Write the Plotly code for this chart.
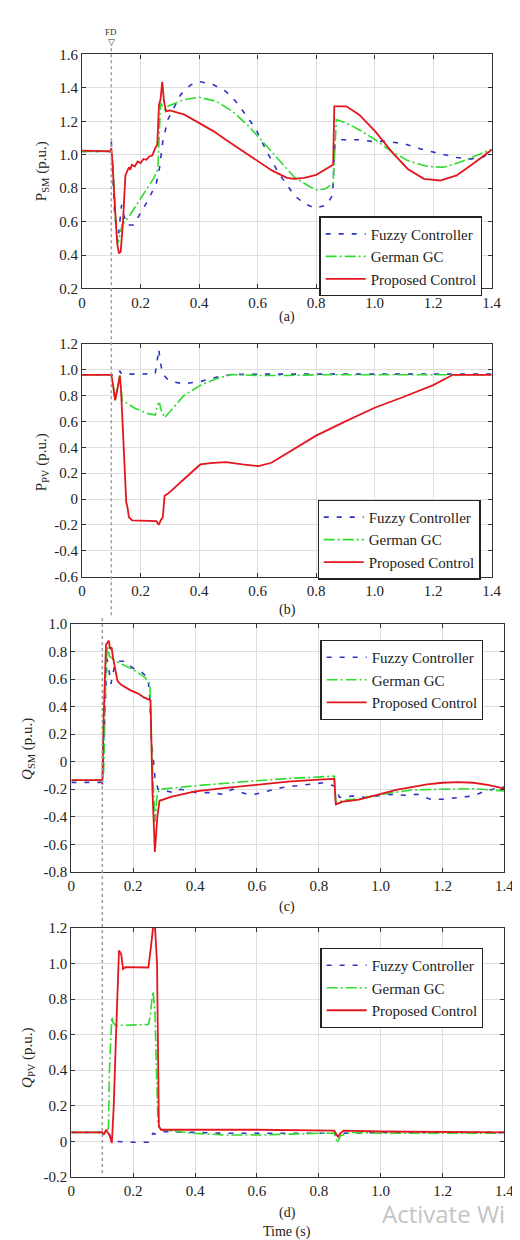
import plotly.graph_objects as go

# ---------------- data ----------------
FD_TIME = 0.1
X_TICKS = [0, 0.2, 0.4, 0.6, 0.8, 1.0, 1.2, 1.4]
X_TICK_TEXT = ["0", "0.2", "0.4", "0.6", "0.8", "1.0", "1.2", "1.4"]

# (a) P_SM
t_a_fuzzy = [0, 0.098, 0.1, 0.103, 0.112, 0.125, 0.13, 0.135, 0.142, 0.155, 0.176, 0.198, 0.226, 0.254, 0.265,
             0.276, 0.293, 0.337, 0.37, 0.404, 0.448, 0.492, 0.525, 0.559, 0.592, 0.631, 0.67, 0.697, 0.725,
             0.758, 0.797, 0.836, 0.856, 0.864, 0.88, 0.908, 0.947, 0.99, 1.035, 1.1, 1.146, 1.19, 1.235, 1.28,
             1.324, 1.368, 1.4]
v_a_fuzzy = [1.02, 1.02, 1.08, 0.95, 0.62, 0.53, 0.62, 0.7, 0.64, 0.58, 0.58, 0.65, 0.73, 0.83, 0.925,
             1.08, 1.21, 1.36, 1.417, 1.437, 1.42, 1.378, 1.32, 1.24, 1.16, 1.02, 0.896, 0.827, 0.758,
             0.709, 0.68, 0.70, 0.758, 1.06, 1.09, 1.09, 1.09, 1.08, 1.08, 1.067, 1.04, 1.02, 1.0, 0.984,
             0.974, 0.984, 1.02]
t_a_german = [0, 0.1, 0.105, 0.115, 0.123, 0.137, 0.16, 0.182, 0.204, 0.226, 0.245, 0.259, 0.264, 0.268,
              0.275, 0.282, 0.293, 0.32, 0.348, 0.4, 0.459, 0.514, 0.57, 0.625, 0.67, 0.725, 0.78, 0.8, 0.83,
              0.858, 0.869, 0.903, 0.947, 1.002, 1.057, 1.113, 1.18, 1.235, 1.291, 1.346, 1.4]
v_a_german = [1.02, 1.02, 0.95, 0.6, 0.47, 0.58, 0.63, 0.69, 0.75, 0.807, 0.86, 0.915, 1.1, 1.31,
              1.29, 1.27, 1.29, 1.31, 1.33, 1.344, 1.32, 1.26, 1.17, 1.063, 0.975, 0.866, 0.807, 0.79, 0.795,
              0.827, 1.21, 1.19, 1.15, 1.09, 1.02, 0.965, 0.93, 0.925, 0.955, 0.994, 1.033]
t_a_prop = [0, 0.098, 0.1, 0.102, 0.104, 0.112, 0.12, 0.126, 0.132, 0.14, 0.148, 0.16, 0.165, 0.17, 0.18,
            0.19, 0.2, 0.21, 0.22, 0.23, 0.24, 0.25, 0.257, 0.263, 0.268, 0.274, 0.28, 0.287, 0.3, 0.35, 0.4,
            0.45, 0.5, 0.55, 0.6, 0.65, 0.7, 0.725, 0.76, 0.8, 0.858, 0.862, 0.903, 0.947, 1.002, 1.057,
            1.113, 1.168, 1.224, 1.28, 1.335, 1.4]
v_a_prop = [1.025, 1.02, 1.04, 1.0, 0.95, 0.7, 0.47, 0.41, 0.42, 0.6, 0.876, 0.925, 0.91, 0.94, 0.93,
            0.96, 0.95, 0.975, 0.97, 0.99, 0.995, 1.04, 1.06, 1.3, 1.33, 1.437, 1.32, 1.26, 1.265, 1.24, 1.19,
            1.14, 1.08, 1.02, 0.96, 0.905, 0.862, 0.856, 0.862, 0.88, 0.94, 1.29, 1.29, 1.24, 1.14, 1.02,
            0.915, 0.856, 0.846, 0.876, 0.945, 1.03]

# (b) P_PV
t_b_fuzzy = [0, 0.1, 0.113, 0.125, 0.129, 0.135, 0.2, 0.25, 0.255, 0.262, 0.268, 0.276, 0.29, 0.304, 0.348,
             0.404, 0.459, 0.514, 0.6, 0.8, 1.0, 1.2, 1.4]
v_b_fuzzy = [0.96, 0.96, 0.95, 0.97, 0.99, 0.965, 0.965, 0.97, 1.04, 1.158, 1.05, 0.967, 0.93, 0.908, 0.89,
             0.908, 0.941, 0.962, 0.965, 0.965, 0.965, 0.965, 0.965]
t_b_german = [0, 0.1, 0.106, 0.113, 0.12, 0.129, 0.137, 0.16, 0.182, 0.226, 0.25, 0.255, 0.259, 0.265, 0.27,
              0.282, 0.304, 0.348, 0.404, 0.459, 0.509, 0.6, 0.7, 0.8, 1.0, 1.4]
v_b_german = [0.96, 0.96, 0.88, 0.763, 0.85, 0.954, 0.763, 0.73, 0.70, 0.66, 0.649, 0.70, 0.735, 0.738, 0.687,
              0.628, 0.687, 0.80, 0.878, 0.929, 0.962, 0.955, 0.955, 0.96, 0.96, 0.96]
t_b_prop = [0, 0.1, 0.106, 0.113, 0.121, 0.129, 0.133, 0.137, 0.146, 0.151, 0.155, 0.16, 0.171, 0.204, 0.254,
            0.258, 0.262, 0.27, 0.276, 0.282, 0.293, 0.348, 0.404, 0.448, 0.492, 0.548, 0.603, 0.647, 0.714,
            0.8, 0.9, 1.0, 1.1, 1.2, 1.267, 1.4]
v_b_prop = [0.96, 0.96, 0.88, 0.763, 0.85, 0.954, 0.85, 0.65, 0.267, -0.025, -0.06, -0.14, -0.165, -0.165, -0.17,
            -0.185, -0.2, -0.16, -0.14, 0.025, 0.04, 0.153, 0.267, 0.28, 0.285, 0.267, 0.254, 0.28, 0.37,
            0.49, 0.6, 0.705, 0.79, 0.88, 0.96, 0.96]

# (c) Q_SM
t_c_fuzzy = [0, 0.098, 0.1, 0.105, 0.115, 0.122, 0.128, 0.14, 0.154, 0.175, 0.196, 0.227, 0.248, 0.254, 0.259,
             0.264, 0.27, 0.28, 0.311, 0.332, 0.353, 0.406, 0.448, 0.49, 0.52, 0.568, 0.594, 0.636, 0.678,
             0.72, 0.768, 0.815, 0.851, 0.856, 0.867, 0.909, 0.951, 1.024, 1.077, 1.119, 1.161, 1.203, 1.245,
             1.297, 1.339, 1.381, 1.4]
v_c_fuzzy = [-0.15, -0.15, -0.16, 0.2, 0.75, 0.66, 0.565, 0.70, 0.73, 0.73, 0.684, 0.65, 0.61, 0.45, 0.134,
             0.04, -0.105, -0.2, -0.213, -0.225, -0.2, -0.225, -0.225, -0.237, -0.2, -0.237, -0.237, -0.213,
             -0.189, -0.177, -0.165, -0.153, -0.177, -0.2, -0.26, -0.249, -0.26, -0.237, -0.244, -0.237,
             -0.273, -0.273, -0.26, -0.249, -0.213, -0.189, -0.185]
t_c_german = [0, 0.1, 0.104, 0.112, 0.117, 0.123, 0.144, 0.175, 0.207, 0.238, 0.254, 0.258, 0.264, 0.27,
              0.278, 0.29, 0.4, 0.5, 0.6, 0.7, 0.8, 0.85, 0.855, 0.862, 0.88, 0.93, 1.0, 1.1, 1.2, 1.3, 1.382,
              1.4]
v_c_german = [-0.134, -0.134, -0.1, 0.7, 0.84, 0.767, 0.73, 0.696, 0.66, 0.612, 0.564, 0.2, -0.2, -0.44,
              -0.225, -0.2, -0.175, -0.155, -0.138, -0.122, -0.11, -0.105, -0.296, -0.296, -0.28, -0.27,
              -0.237, -0.206, -0.2, -0.196, -0.21, -0.213]
t_c_prop = [0, 0.098, 0.1, 0.104, 0.112, 0.121, 0.125, 0.13, 0.135, 0.149, 0.16, 0.175, 0.19, 0.207, 0.22,
            0.233, 0.249, 0.256, 0.262, 0.27, 0.278, 0.285, 0.322, 0.4, 0.5, 0.6, 0.7, 0.8, 0.85, 0.855,
            0.878, 0.93, 1.0, 1.05, 1.1, 1.15, 1.2, 1.25, 1.3, 1.35, 1.4]
v_c_prop = [-0.134, -0.134, -0.165, 0.3, 0.85, 0.88, 0.82, 0.83, 0.75, 0.588, 0.56, 0.54, 0.52, 0.504, 0.49,
            0.469, 0.455, 0.445, -0.2, -0.655, -0.4, -0.284, -0.255, -0.215, -0.19, -0.165, -0.145, -0.13,
            -0.125, -0.31, -0.29, -0.275, -0.235, -0.205, -0.185, -0.165, -0.153, -0.148, -0.153, -0.17,
            -0.196]

# (d) Q_PV
t_d_fuzzy = [0, 0.1, 0.12, 0.128, 0.133, 0.2, 0.249, 0.258, 0.264, 0.27, 0.28, 0.3, 0.5, 0.85, 0.86, 0.87,
             1.0, 1.4]
v_d_fuzzy = [0.05, 0.05, 0.05, 0.02, 0.0, -0.005, -0.005, 0.03, 0.045, 0.04, 0.05, 0.055, 0.045, 0.045, 0.03,
             0.045, 0.05, 0.05]
t_d_german = [0, 0.1, 0.115, 0.12, 0.123, 0.128, 0.131, 0.135, 0.144, 0.249, 0.255, 0.259, 0.264, 0.27, 0.275,
              0.28, 0.29, 0.385, 0.5, 0.6, 0.8, 0.85, 0.86, 0.87, 0.9, 1.0, 1.4]
v_d_german = [0.05, 0.05, 0.05, 0.08, 0.39, 0.6, 0.7, 0.667, 0.652, 0.657, 0.7, 0.777, 0.843, 0.74, 0.4,
              0.093, 0.065, 0.046, 0.035, 0.035, 0.045, 0.045, -0.01, 0.03, 0.05, 0.045, 0.045]
t_d_prop = [0, 0.1, 0.105, 0.112, 0.118, 0.123, 0.131, 0.137, 0.144, 0.154, 0.161, 0.167, 0.175, 0.249, 0.257,
            0.264, 0.27, 0.277, 0.283, 0.29, 0.385, 0.6, 0.85, 0.857, 0.862, 0.87, 0.88, 1.0, 1.4]
v_d_prop = [0.05, 0.05, 0.037, 0.065, 0.05, 0.037, -0.01, 0.2, 0.574, 1.074, 1.055, 0.97, 0.98, 0.978, 1.09,
            1.2, 1.22, 1.0, 0.083, 0.065, 0.065, 0.065, 0.06, 0.04, 0.025, 0.045, 0.06, 0.055, 0.05]

SERIES_NAMES = ["Fuzzy Controller", "German GC", "Proposed Control"]

# ---------------- styling ----------------
W, H = 520, 1240
FONT = "Liberation Serif"
BLUE, GREEN, RED = "#2b35c4", "#2edc2e", "#e3161e"
STYLES = [dict(color=BLUE, width=1.6, dash="5px,8px"),
          dict(color=GREEN, width=1.6, dash="11px,3px,2px,3px"),
          dict(color=RED, width=1.8)]


def px_x(p):
    return p / W


def px_y(p):
    return 1 - p / H


panels = [
    dict(t=[t_a_fuzzy, t_a_german, t_a_prop], v=[v_a_fuzzy, v_a_german, v_a_prop],
         xd=[px_x(72), px_x(493)], yd=[px_y(276), px_y(39)], yr=[0.2, 1.6],
         yt=[0.2, 0.4, 0.6, 0.8, 1.0, 1.2, 1.4, 1.6],
         ytt=["0.2", "0.4", "0.6", "0.8", "1.0", "1.2", "1.4", "1.6"],
         leg=(316, 203), lab="P<sub>SM</sub> (p.u.)", labpos=(31, 157), sub="(a)", subpos=305),
    dict(t=[t_b_fuzzy, t_b_german, t_b_prop], v=[v_b_fuzzy, v_b_german, v_b_prop],
         xd=[px_x(72), px_x(493)], yd=[px_y(568), px_y(332)], yr=[-0.6, 1.2],
         yt=[-0.6, -0.4, -0.2, 0, 0.2, 0.4, 0.6, 0.8, 1.0, 1.2],
         ytt=["-0.6", "-0.4", "-0.2", "0", "0.2", "0.4", "0.6", "0.8", "1.0", "1.2"],
         leg=(314, 490), lab="P<sub>PV</sub> (p.u.)", labpos=(31, 452), sub="(b)", subpos=602),
    dict(t=[t_c_fuzzy, t_c_german, t_c_prop], v=[v_c_fuzzy, v_c_german, v_c_prop],
         xd=[px_x(61), px_x(506)], yd=[px_y(867), px_y(616)], yr=[-0.8, 1.0],
         yt=[-0.8, -0.6, -0.4, -0.2, 0, 0.2, 0.4, 0.6, 0.8, 1.0],
         ytt=["-0.8", "-0.6", "-0.4", "-0.2", "0", "0.2", "0.4", "0.6", "0.8", "1.0"],
         leg=(317, 632), lab="<i>Q</i><sub>SM</sub> (p.u.)", labpos=(17, 743), sub="(c)", subpos=903),
    dict(t=[t_d_fuzzy, t_d_german, t_d_prop], v=[v_d_fuzzy, v_d_german, v_d_prop],
         xd=[px_x(61), px_x(506)], yd=[px_y(1176), px_y(924)], yr=[-0.2, 1.2],
         yt=[-0.2, 0, 0.2, 0.4, 0.6, 0.8, 1.0, 1.2],
         ytt=["-0.2", "0", "0.2", "0.4", "0.6", "0.8", "1.0", "1.2"],
         leg=(317, 944), lab="<i>Q</i><sub>PV</sub> (p.u.)", labpos=(17, 1055), sub="(d)", subpos=1213),
]

fig = go.Figure()
annotations = []
layout = dict(width=W, height=H, margin=dict(l=0, r=0, t=0, b=0), paper_bgcolor="white",
              plot_bgcolor="white", font=dict(family=FONT, size=15, color="#222"), showlegend=True)

for i, p in enumerate(panels, start=1):
    sfx = "" if i == 1 else str(i)
    legname = "legend" + sfx
    for k in range(3):
        fig.add_trace(go.Scatter(x=p["t"][k], y=p["v"][k], mode="lines", name=SERIES_NAMES[k],
                                 line=STYLES[k], xaxis="x" + sfx, yaxis="y" + sfx, legend=legname))
    axcommon = dict(showline=True, linecolor="#333", linewidth=1.2, mirror="ticks", ticks="inside",
                    ticklen=4, tickcolor="#333", showgrid=True, gridcolor="#dedede", gridwidth=1,
                    zeroline=False, tickfont=dict(family=FONT, size=15, color="#222"))
    layout["xaxis" + sfx] = dict(axcommon, domain=p["xd"], range=[0, 1.4], tickvals=X_TICKS,
                                 ticktext=X_TICK_TEXT, anchor="y" + sfx)
    layout["yaxis" + sfx] = dict(axcommon, domain=p["yd"], range=p["yr"], tickvals=p["yt"],
                                 ticktext=p["ytt"], anchor="x" + sfx)
    layout[legname] = dict(x=px_x(p["leg"][0]), y=px_y(p["leg"][1]), xanchor="left", yanchor="top",
                           bgcolor="white", bordercolor="#222", borderwidth=1.2,
                           font=dict(family=FONT, size=15, color="#222"), tracegroupgap=0,
                           itemwidth=40)
    annotations.append(dict(text=p["lab"], x=px_x(p["labpos"][0]), y=px_y(p["labpos"][1]), xref="paper",
                            yref="paper", textangle=-90, showarrow=False, xanchor="center",
                            yanchor="middle", font=dict(family=FONT, size=15, color="#222")))
    annotations.append(dict(text=p["sub"], x=px_x(283), y=px_y(p["subpos"]), xref="paper", yref="paper",
                            showarrow=False, xanchor="center", yanchor="middle",
                            font=dict(family=FONT, size=14, color="#222")))

annotations.append(dict(text="Time (s)", x=px_x(283), y=px_y(1232), xref="paper", yref="paper",
                        showarrow=False, xanchor="center", yanchor="middle",
                        font=dict(family=FONT, size=14, color="#222")))
annotations.append(dict(text="FD", x=FD_TIME, y=px_y(16), xref="x", yref="paper", showarrow=False,
                        xanchor="center", yanchor="middle", font=dict(family=FONT, size=9, color="#333")))
annotations.append(dict(text="▽", x=FD_TIME, y=px_y(26), xref="x", yref="paper", showarrow=False,
                        xanchor="center", yanchor="middle", font=dict(family="DejaVu Sans", size=9,
                                                                      color="#333")))
annotations.append(dict(text="Activate Wi", x=px_x(378), y=px_y(1213), xref="paper", yref="paper",
                        showarrow=False, xanchor="left", yanchor="middle",
                        font=dict(family="Open Sans", size=24, color="#c4c4c4")))

shapes = [
    dict(type="line", xref="x", yref="paper", x0=FD_TIME, x1=FD_TIME, y0=px_y(607), y1=px_y(31),
         line=dict(color="#9a9a9a", width=1.5, dash="dot"), layer="above"),
    dict(type="line", xref="x3", yref="paper", x0=FD_TIME, x1=FD_TIME, y0=px_y(1172), y1=px_y(608),
         line=dict(color="#9a9a9a", width=1.5, dash="dot"), layer="above"),
]
layout["annotations"] = annotations
layout["shapes"] = shapes
fig.update_layout(**layout)
fig.write_html("out.html")
